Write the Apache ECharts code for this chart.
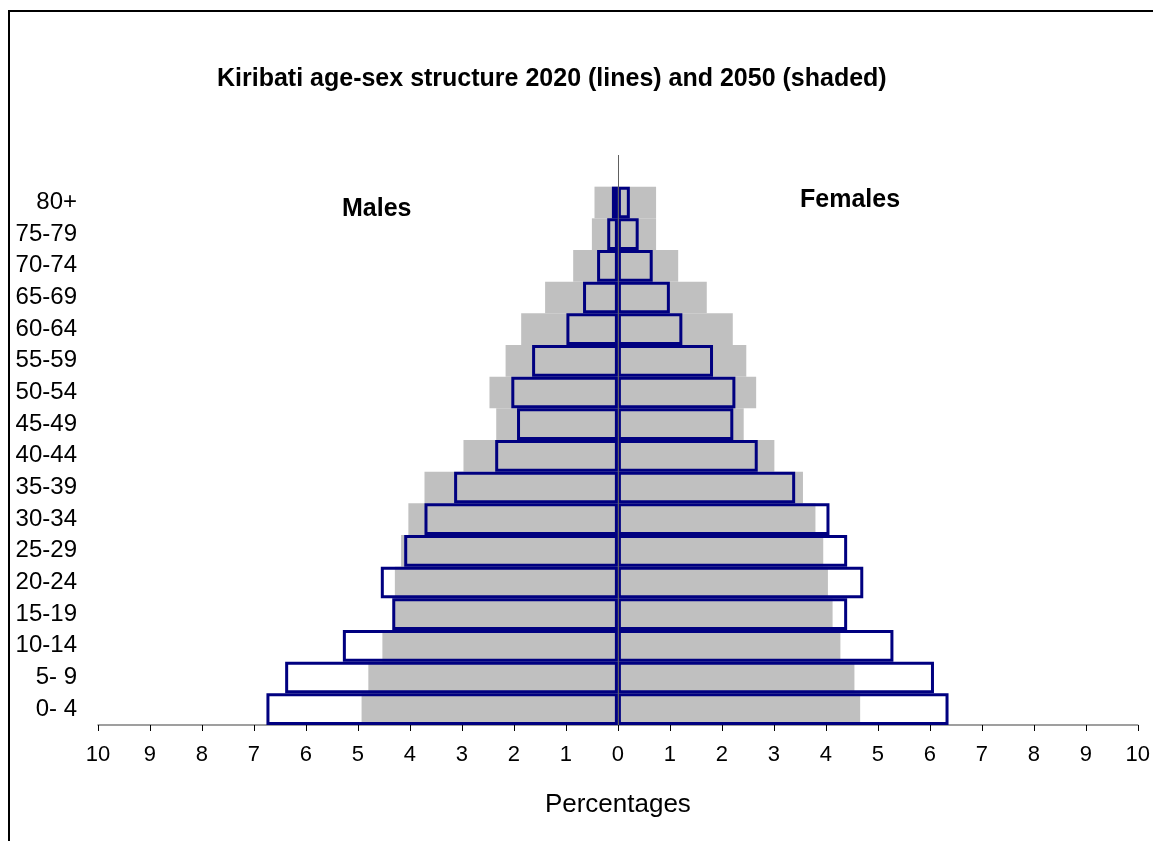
<!DOCTYPE html>
<html>
<head>
<meta charset="utf-8">
<script src="https://cdn.jsdelivr.net/npm/echarts@6/dist/echarts.min.js"></script>
<style>
  html, body { margin: 0; padding: 0; background: #fff; }
  #chart { width: 1153px; height: 841px; }
</style>
</head>
<body>
<div id="chart"></div>
<script>
// 年龄组, 从下往上 (最后一个空的留给顶部那段竖线)
let ageGroups = ['0- 4', '5- 9', '10-14', '15-19', '20-24', '25-29', '30-34', '35-39', '40-44',
  '45-49', '50-54', '55-59', '60-64', '65-69', '70-74', '75-79', '80+', '']

// 2050 (shaded)
let males2050 = [4.93, 4.80, 4.53, 4.30, 4.29, 4.17, 4.03, 3.72, 2.97, 2.34, 2.47, 2.16, 1.86, 1.40, 0.86, 0.50, 0.45]
let females2050 = [4.66, 4.55, 4.28, 4.13, 4.04, 3.95, 3.80, 3.56, 3.01, 2.42, 2.66, 2.47, 2.21, 1.71, 1.16, 0.735, 0.735]

// 2020 (lines)
let males2020 = [6.76, 6.40, 5.29, 4.34, 4.56, 4.11, 3.72, 3.15, 2.36, 1.94, 2.05, 1.65, 0.99, 0.67, 0.40, 0.205, 0.115]
let females2020 = [6.36, 6.08, 5.30, 4.41, 4.72, 4.41, 4.07, 3.41, 2.69, 2.22, 2.26, 1.83, 1.24, 1.00, 0.67, 0.40, 0.23]

let font = 'Liberation Sans, Arial, sans-serif'

function neg(arr) {
  return arr.map(v => -v)
}

function shaded(name, data) {
  return {
    name: name,
    type: 'bar',
    barCategoryGap: '0%',
    barGap: '-100%',
    itemStyle: { color: '#c0c0c0' },
    data: data
  }
}

function outlined(name, data) {
  return {
    name: name,
    type: 'bar',
    barCategoryGap: '0%',
    barGap: '-100%',
    itemStyle: {
      color: 'rgba(0,0,0,0)',
      borderColor: '#000080',
      borderWidth: 3
    },
    data: data
  }
}

let myChart = echarts.init(document.getElementById('chart'))

let option = {
  backgroundColor: '#fff',
  animation: false,
  title: {
    text: 'Kiribati age-sex structure 2020 (lines) and 2050 (shaded)',
    left: 212,
    top: 62,
    textStyle: { fontFamily: font, fontSize: 25, fontWeight: 'bold', color: '#000' }
  },
  grid: {
    left: 98,
    right: 9,
    top: 155,
    bottom: 116
  },
  xAxis: {
    type: 'value',
    min: -10,
    max: 10,
    interval: 1,
    name: 'Percentages',
    nameLocation: 'middle',
    nameGap: 67,
    nameTextStyle: { fontFamily: font, fontSize: 26, color: '#000' },
    axisLine: { show: true, onZero: false, lineStyle: { color: '#808080', width: 1.5 } },
    axisTick: { show: true, length: 6, lineStyle: { color: '#000' } },
    axisLabel: {
      fontFamily: font,
      fontSize: 22,
      color: '#000',
      margin: 19,
      formatter: v => Math.abs(v)
    },
    splitLine: { show: false }
  },
  yAxis: {
    type: 'category',
    data: ageGroups,
    axisLine: { show: false },
    axisTick: { show: false },
    axisLabel: {
      fontFamily: font,
      fontSize: 24,
      color: '#000',
      margin: 21,
      align: 'right'
    },
    splitLine: { show: false }
  },
  series: [
    shaded('Males 2050', neg(males2050)),
    shaded('Females 2050', females2050),
    outlined('Males 2020', neg(males2020)),
    Object.assign(outlined('Females 2020', females2020), {
      markLine: {
        silent: true,
        symbol: 'none',
        label: { show: false },
        lineStyle: { color: '#606060', width: 1, type: 'solid' },
        data: [{ xAxis: 0 }]
      }
    })
  ],
  graphic: [
    {
      type: 'text',
      left: 342,
      top: 197,
      style: { text: 'Males', fontFamily: font, fontSize: 25, fontWeight: 'bold', fill: '#000' }
    },
    {
      type: 'text',
      left: 800,
      top: 188,
      style: { text: 'Females', fontFamily: font, fontSize: 25, fontWeight: 'bold', fill: '#000' }
    },
    // 外框 (左边和上边)
    {
      type: 'polyline',
      shape: { points: [[9, 841], [9, 11], [1153, 11]] },
      style: { stroke: '#000', lineWidth: 2, fill: null }
    }
  ]
}

myChart.setOption(option)
window.addEventListener('resize', function () {
  myChart.resize()
})
</script>
</body>
</html>
